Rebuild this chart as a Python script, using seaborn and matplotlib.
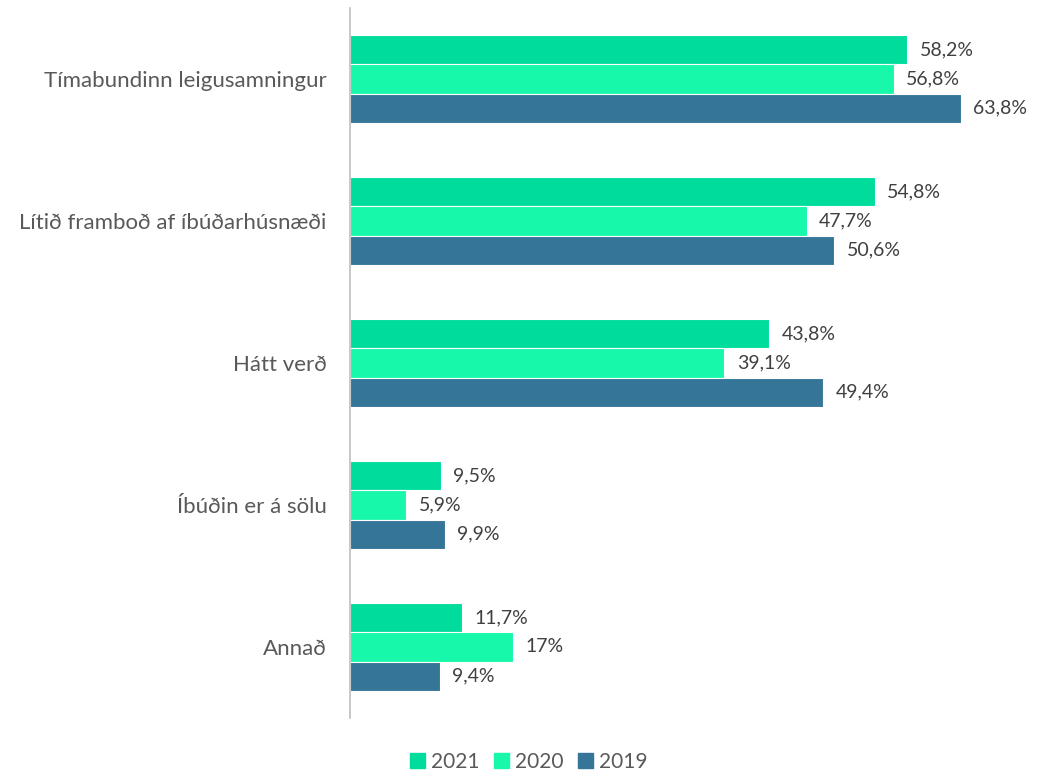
import matplotlib
matplotlib.use("Agg")
import matplotlib.pyplot as plt
import seaborn as sns
import pandas as pd

categories = ["Tímabundinn leigusamningur", "Lítið framboð af íbúðarhúsnæði",
              "Hátt verð", "Íbúðin er á sölu", "Annað"]
years = ["2021", "2020", "2019"]
v2021 = [58.2, 54.8, 43.8, 9.5, 11.7]
v2020 = [56.8, 47.7, 39.1, 5.9, 17.0]
v2019 = [63.8, 50.6, 49.4, 9.9, 9.4]
colors = ["#00DC9B", "#17F8AB", "#347598"]

rows = []
for yr, vals in zip(years, [v2021, v2020, v2019]):
    for c, v in zip(categories, vals):
        rows.append({"cat": c, "year": yr, "val": v})
df = pd.DataFrame(rows)

sns.set_theme(style="white")
plt.rcParams["font.family"] = ["Lato", "DejaVu Sans"]

fig = plt.figure(figsize=(10.41, 7.81), dpi=100)
ax = fig.add_axes([350/1041, 1-718/781, 670/1041, 710/781])

sns.barplot(data=df, y="cat", x="val", hue="year", order=categories,
            hue_order=years, palette=colors, orient="h", width=0.62,
            saturation=1, edgecolor="white", linewidth=0.8, ax=ax)

def fmt(v):
    return f"{v:g}".replace(".", ",") + "%"

for cont in ax.containers:
    ax.bar_label(cont, labels=[fmt(b.get_width()) for b in cont],
                 padding=9, fontsize=14, color="#404040")

ax.set_xlim(0, 70)
ax.set_ylim(4.5, -0.5)
ax.set_xlabel("")
ax.set_ylabel("")
ax.set_xticks([])
ax.tick_params(axis="y", length=0, pad=17, labelsize=16, labelcolor="#595959")
for s in ["top", "right", "bottom"]:
    ax.spines[s].set_visible(False)
ax.spines["left"].set_color("#BFBFBF")
ax.spines["left"].set_linewidth(1.2)

ax.legend_.remove()
handles = [plt.Rectangle((0, 0), 1, 1, color=c) for c in colors]
fig.legend(handles, years, loc="lower center", bbox_to_anchor=(0.508, -0.012),
           ncol=3, frameon=False, handlelength=0.7, handleheight=0.7,
           handletextpad=0.3, columnspacing=0.7, fontsize=15,
           labelcolor="#595959")

fig.savefig("out.png", dpi=100)
